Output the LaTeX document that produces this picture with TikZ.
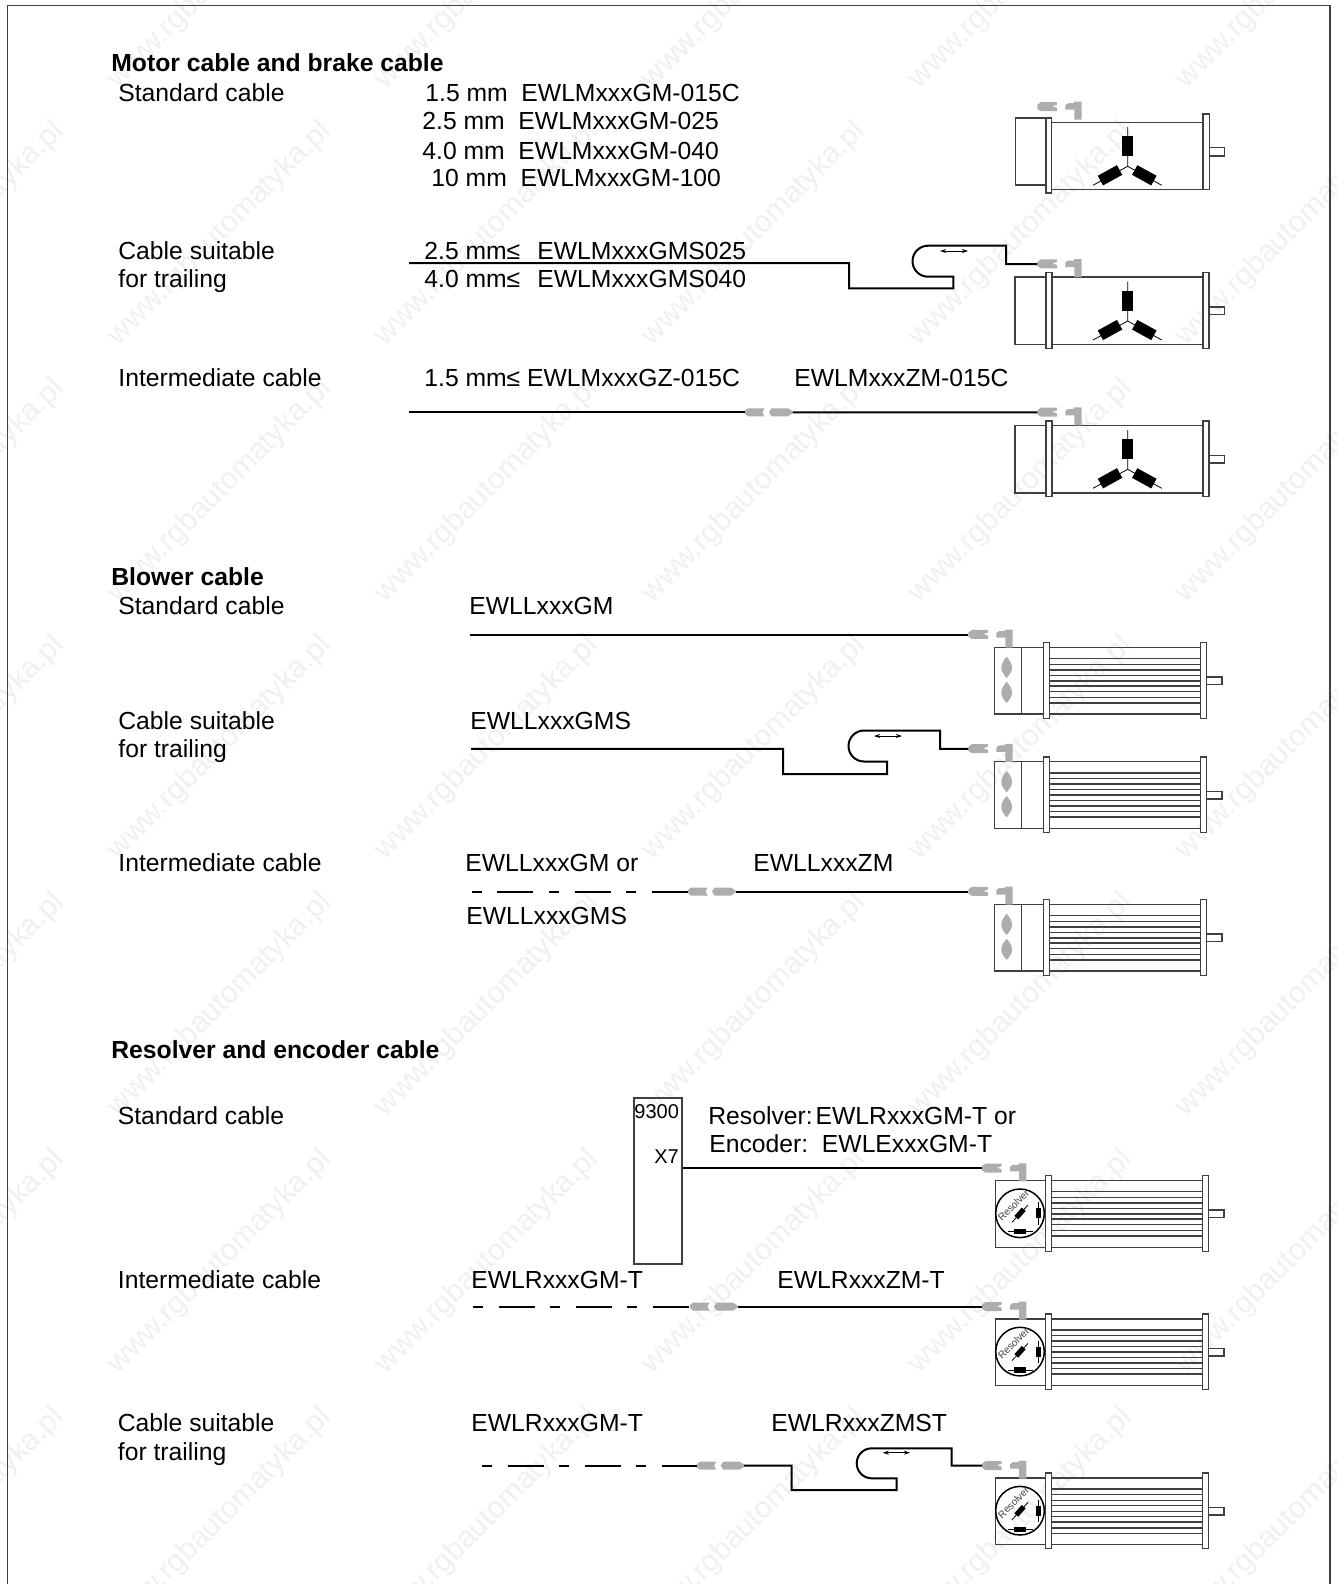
\documentclass[tikz,border=0pt]{standalone}
\usepackage{fontspec}
\setmainfont{Liberation Sans}
\usetikzlibrary{arrows.meta}
\definecolor{plugcol}{gray}{0.68}
\definecolor{markcol}{rgb}{0.945,0.94,0.93}
\definecolor{linecol}{gray}{0.25}

\begin{document}
\frenchspacing
\begin{tikzpicture}[
        x=0.5pt, y=-0.5pt,
        lbl/.style={anchor=base west, inner sep=0pt, font=\fontsize{12.35}{14}\selectfont},
        head/.style={lbl, font=\fontsize{12.35}{14}\selectfont\bfseries},
        boxlbl/.style={lbl, font=\fontsize{10}{12}\selectfont},
        wmark/.style={anchor=east, inner sep=0pt, rotate=45, text=markcol, font=\fontsize{15}{17}\selectfont},
        cable/.style={draw, line width=1pt, black},
        cabledash/.style={cable, dash pattern=on 5pt off 7.8pt on 18pt off 7.8pt},
        part/.style={draw=linecol, line width=0.75pt},
        thinline/.style={draw=black, line width=0.4pt},
        winding/.style={draw=black, line width=5.5pt},
        smallwinding/.style={draw=black, line width=2.6pt},
        travel/.style={draw=black, line width=0.5pt, {Stealth[length=3pt,width=2pt]}-{Stealth[length=3pt,width=2pt]}},
        plug/.pic={
            \fill[plugcol] (0,-2) -- (3.5,-4.6) -- (19.5,-4.6) -- (19.5,-2) -- (15,-0.5) -- (19.5,1) -- (19.5,4.4) -- (3.5,4.4) -- (0,2) -- cycle;
            \fill[plugcol] (28,-1.5) -- (31,-3.5) -- (36.5,-3.5) -- (36.5,-5) -- (44.4,-5) -- (44.4,13) -- (37,13) -- (37,3) -- (28,3) -- cycle;
        },
        coupling/.pic={
            \fill[plugcol] (0,-1.5) -- (3,-4) -- (19.5,-4) -- (17.5,0) -- (19.5,4) -- (3,4) -- (0,1.5) -- cycle;
            \fill[plugcol] (24,0) -- (26.5,-4) -- (43,-4) -- (47.5,-1) -- (47.5,1) -- (43,4) -- (26.5,4) -- cycle;
            \coordinate (-in) at (0,0);
            \coordinate (-out) at (47.5,0);
        },
        flanges/.pic={
            \draw[part, fill=white] (0,0) rectangle (6,75.6);
            \draw[part, fill=white] (157,0) rectangle (163.2,75.6);
            \draw[part] (163.2,34.3) rectangle (178.5,41.8);
        },
        star/.pic={
            \draw[thinline] (81.7,9) -- (81.7,38) -- (81.7,48.3) -- (47,67.3);
            \draw[thinline] (81.7,48.3) -- (115.7,67.3);
            \draw[winding] (81.7,18) -- (81.7,38);
            \draw[winding] (54.4,62.6) -- (73.6,52);
            \draw[winding] (88.7,52) -- (107.9,62.6);
        },
        % motor with brake housing, a little offset
        brakemotor/.pic={
            \draw[part] (-30.5,0) rectangle (0,67);
            \draw[part] (5.7,4.7) -- (157,4.7) (5.7,71.3) -- (157,71.3);
            \draw[part, fill=white] (0,0) rectangle (5.7,75);
            \draw[part, fill=white] (157,-4) rectangle (163.3,71.3);
            \draw[part] (163.3,29.5) rectangle (178.3,38);
            \pic at (0,0) {star};
            \pic at (-8.7,-11.3) {plug};
            \coordinate (-in) at (-8.7,-11.3);
        },
        motor/.pic={
            \draw[part] (-31,4.5) rectangle (157,72);
            \pic at (0,0) {flanges};
            \pic at (0,0) {star};
            \pic at (-8.7,-8.7) {plug};
            \coordinate (-in) at (-8.7,-8.7);
        },
        ribs/.pic={
            \foreach \ribY in {16,21.6,27.2,32.6,38.2,43.4,49,54.7,60.2}
                \draw[part] (6,\ribY) -- (157,\ribY);
        },
        blower/.pic={
            \draw[part] (-49,4.6) rectangle (157,71.3);
            \draw[part] (-21.6,4.6) -- (-21.6,71.3);
            \pic at (0,0) {flanges};
            \pic at (0,0) {ribs};
            \fill[plugcol] (-36.6,14) .. controls (-34,17) and (-31.2,21) .. (-31.2,25) .. controls (-31.2,29) and (-34,32) .. (-36.6,35.3) .. controls (-39.5,32) and (-42,29) .. (-42,25) .. controls (-42,21) and (-39.5,17) .. (-36.6,14) -- cycle;
            \fill[plugcol] (-36.6,39) .. controls (-34,42) and (-31.2,46) .. (-31.2,50) .. controls (-31.2,54) and (-34,57) .. (-36.6,60.3) .. controls (-39.5,57) and (-42,54) .. (-42,50) .. controls (-42,46) and (-39.5,42) .. (-36.6,39) -- cycle;
            \pic at (-75,-8.2) {plug};
            \coordinate (-in) at (-75,-8.2);
        },
        resolver/.pic={
            \draw[part] (-49.6,5) rectangle (157,71.6);
            \pic at (0,0) {flanges};
            \pic at (0,0) {ribs};
            \draw[part, draw=black] (-25.3,37.6) circle (24.3);
            \node[inner sep=0pt, rotate=45, text=linecol, font=\fontsize{5}{6}\selectfont] (-lbl) at (-31.8,29.5) {Resolver};
            \draw[thinline] (-33.3,46.6) -- (-17.3,29.3);
            \draw[smallwinding] (-29,41.9) -- (-21.6,33.6);
            \draw[thinline] (-7,26.6) -- (-7,49.3);
            \draw[smallwinding] (-7,32.6) -- (-7,42.6);
            \draw[thinline] (-37,56) -- (-12.6,56);
            \draw[smallwinding] (-31,56) -- (-19.6,56);
            \pic at (-63.3,-7.4) {plug};
            \coordinate (-in) at (-63.3,-7.4);
        }
    ]
    \useasboundingbox (0,0) rectangle (1337,1584);
    \clip (0,0) rectangle (1337,1584);

    % watermark
    \foreach \markX [count=\c] in {60,327,594,861,1128,1395}
        \foreach \markY [count=\r] in {-130,127,384,641,898,1155,1413}
            \node[wmark] (wm\c_\r) at (\markX,\markY) {www.rgbautomatyka.pl};

    % frame
    \coordinate (fa) at (7.5,1590);
    \coordinate (fb) at (7.5,5.5);
    \coordinate (fc) at (1330,5.5);
    \coordinate (fd) at (1330,1590);
    \draw[draw=linecol, line width=0.75pt] (fa) -- (fb) -- (fc) -- (fd);

    % Motor cable and brake cable
    \node[head] (h1) at (111,72) {Motor cable and brake cable};
    \node[lbl] (s1) at (118,102) {Standard cable};
    \node[lbl] (s1a) at (425,102) {1.5 mm\ \ EWLMxxxGM-015C};
    \node[lbl] (s1b) at (422,129) {2.5 mm\ \ EWLMxxxGM-025};
    \node[lbl] (s1c) at (422,159) {4.0 mm\ \ EWLMxxxGM-040};
    \node[lbl] (s1d) at (431,186) {10 mm\ \ EWLMxxxGM-100};
    \pic (m1) at (1046,118) {brakemotor};

    \node[lbl] (t1) at (118,259) {Cable suitable};
    \node[lbl] (t1b) at (118,287) {for trailing};
    \node[lbl] (t1c) at (424,259) {2.5 mm≤\ \ \hspace{1.7pt}EWLMxxxGMS025};
    \node[lbl] (t1d) at (424,287) {4.0 mm≤\ \ \hspace{1.7pt}EWLMxxxGMS040};
    \pic (m2) at (1046,272.7) {motor};
    \coordinate (c2) at (409,263);
    \draw[cable] (c2) -- (849,263) -- (849,288.3) -- (953.3,288.3) -- (953.3,276.7) -- (928,276.7)
        arc[start angle=90, end angle=270, radius=15.5] -- (1006,245.7) -- (1006,264) -- (m2-in);
    \coordinate (a2l) at (940,251);
    \coordinate (a2r) at (968,251);
    \draw[travel] (a2l) -- (a2r);

    \node[lbl] (i1) at (118,386) {Intermediate cable};
    \node[lbl] (i1a) at (424,386) {1.5 mm≤ EWLMxxxGZ-015C};
    \node[lbl] (i1b) at (794,386) {EWLMxxxZM-015C};
    \pic (m3) at (1046,421) {motor};
    \pic (k3) at (745,412.3) {coupling};
    \coordinate (c3) at (409,412.3);
    \draw[cable] (c3) -- (k3-in);
    \draw[cable] (k3-out) -- (m3-in);

    % Blower cable
    \node[head] (h2) at (111,585.5) {Blower cable};
    \node[lbl] (s2) at (118,614) {Standard cable};
    \node[lbl] (s2a) at (469,614) {EWLLxxxGM};
    \pic (b1) at (1043.3,642.7) {blower};
    \coordinate (c4) at (470,634.5);
    \draw[cable] (c4) -- (b1-in);

    \node[lbl] (t2) at (118,729) {Cable suitable};
    \node[lbl] (t2b) at (118,757) {for trailing};
    \node[lbl] (t2a) at (470,729) {EWLLxxxGMS};
    \pic (b2) at (1043.3,757) {blower};
    \coordinate (c5) at (471,748.8);
    \draw[cable] (c5) -- (783,748.8) -- (783,774) -- (887,774) -- (887,761.5) -- (864,761.5)
        arc[start angle=90, end angle=270, radius=15.5] -- (940,730.5) -- (940,748.8) -- (b2-in);
    \coordinate (a5l) at (874,736);
    \coordinate (a5r) at (902,736);
    \draw[travel] (a5l) -- (a5r);

    \node[lbl] (i2) at (118,871.5) {Intermediate cable};
    \node[lbl] (i2a) at (465,871.5) {EWLLxxxGM or};
    \node[lbl] (i2b) at (753,871.5) {EWLLxxxZM};
    \node[lbl] (i2c) at (466,924) {EWLLxxxGMS};
    \pic (b3) at (1043.3,899.7) {blower};
    \pic (k6) at (688,891.5) {coupling};
    \coordinate (c6) at (471.7,891.5);
    \draw[cabledash] (c6) -- (k6-in);
    \draw[cable] (k6-out) -- (b3-in);

    % Resolver and encoder cable
    \node[head] (h3) at (111,1058.5) {Resolver and encoder cable};
    \node[lbl] (s3) at (117.5,1124) {Standard cable};
    \node[draw=linecol, line width=0.75pt, minimum width=24pt, minimum height=83pt, inner sep=0pt, anchor=north west] (box) at (633,1097) {};
    \node[boxlbl] (n9300) at (634,1118) {9300};
    \node[boxlbl] (x7) at (654,1163) {X7};
    \node[lbl] (s3a) at (708,1124) {Resolver:\hspace{1.5pt}EWLRxxxGM-T or};
    \node[lbl] (s3b) at (709,1152) {Encoder:\ \ EWLExxxGM-T};
    \pic (r1) at (1045.3,1175.7) {resolver};
    \coordinate (x7pin) at (box.north east |- r1-in);
    \draw[cable] (x7pin) -- (r1-in);

    \node[lbl] (i3) at (117.5,1288) {Intermediate cable};
    \node[lbl] (i3a) at (471,1288) {EWLRxxxGM-T};
    \node[lbl] (i3b) at (777,1288) {EWLRxxxZM-T};
    \pic (r2) at (1045.3,1314) {resolver};
    \pic (k8) at (690,1306.6) {coupling};
    \coordinate (c8) at (473,1306.6);
    \draw[cabledash] (c8) -- (k8-in);
    \draw[cable] (k8-out) -- (r2-in);

    \node[lbl] (t3) at (117.5,1431.5) {Cable suitable};
    \node[lbl] (t3b) at (117.5,1460) {for trailing};
    \node[lbl] (t3a) at (471,1431.5) {EWLRxxxGM-T};
    \node[lbl] (t3c) at (771,1431.5) {EWLRxxxZMST};
    \pic (r3) at (1045.3,1473.1) {resolver};
    \pic (k9) at (696.7,1465.7) {coupling};
    \coordinate (c9) at (482,1465.7);
    \draw[cabledash] (c9) -- (k9-in);
    \draw[cable] (k9-out) -- (791.7,1465.7) -- (791.7,1490) -- (896.7,1490) -- (896.7,1478.3) -- (871.7,1478.3)
        arc[start angle=90, end angle=270, radius=15] -- (951.7,1448.3) -- (951.7,1465.7) -- (r3-in);
    \coordinate (a9l) at (882.7,1452.7);
    \coordinate (a9r) at (910,1452.7);
    \draw[travel] (a9l) -- (a9r);

\end{tikzpicture}
\end{document}
